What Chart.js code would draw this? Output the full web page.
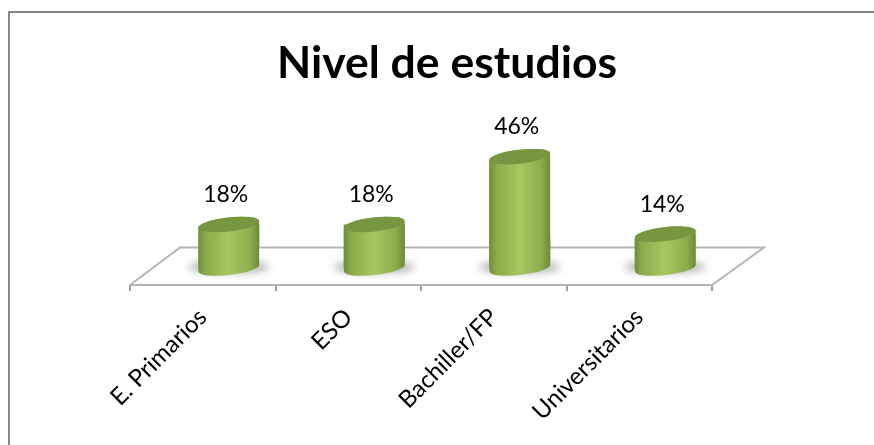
<!DOCTYPE html>
<html>
<head>
<meta charset="utf-8">
<style>
  html, body { margin: 0; padding: 0; background: #fff; }
  #wrap { position: relative; width: 874px; height: 445px; }
  canvas { filter: blur(0.35px); }
</style>
</head>
<body>
<div id="wrap"><canvas id="estudiosChart" width="874" height="445"></canvas></div>
<script src="https://cdn.jsdelivr.net/npm/chart.js@4/dist/chart.umd.min.js"></script>
<script>
const categorias = ['E. Primarios', 'ESO', 'Bachiller/FP', 'Universitarios'];
const porcentajes = [18, 18, 46, 14];
const etiquetas = ['18%', '18%', '46%', '14%'];

// la perspectiva del suelo: el fondo va corrido respecto al eje, las barras a media profundidad
const fondoX = 50, fondoY = 37.5;
const barraX = 26, barraY = 17;
const radioY = 7, giro = -0.115;

function gradienteBarra(ctx, cx, r) {
    const g = ctx.createLinearGradient(cx - r, 0, cx + r, 0);
    g.addColorStop(0, '#6f8f38');
    g.addColorStop(0.12, '#8bab4c');
    g.addColorStop(0.5, '#a6c85f');
    g.addColorStop(0.85, '#8cad4d');
    g.addColorStop(1, '#6c8b37');
    return g;
}

function datosBarras(chart) {
    return chart.getDatasetMeta(0).data.map(function(b) {
        return { cx: b.x, top: b.y, base: b.base, r: b.width / 2 };
    });
}

function silueta(ctx, b) {
    ctx.ellipse(b.cx, b.top, b.r, radioY, giro, Math.PI, Math.PI * 2);
    ctx.ellipse(b.cx, b.base, b.r, radioY, giro, 0, Math.PI);
    ctx.closePath();
}

const cilindros = {
    id: 'cilindros',
    beforeDatasetDraw(chart) {
        const ctx = chart.ctx;
        ctx.save();
        ctx.translate(barraX, -barraY);
        datosBarras(chart).forEach(function(b) {
            // sombra sobre el suelo
            ctx.save();
            ctx.filter = 'blur(4px)';
            ctx.fillStyle = 'rgba(120,120,120,0.75)';
            ctx.beginPath();
            ctx.ellipse(b.cx, b.base - 1, b.r + 10, 5, 0, 0, Math.PI * 2);
            ctx.fill();
            ctx.restore();
            // cuerpo entero, la barra solo cubre hasta la base
            ctx.fillStyle = gradienteBarra(ctx, b.cx, b.r);
            ctx.beginPath();
            silueta(ctx, b);
            ctx.fill();
        });
        // recorta la barra a la silueta del cilindro
        ctx.beginPath();
        datosBarras(chart).forEach(function(b) {
            silueta(ctx, b);
        });
        ctx.clip();
    },
    afterDatasetDraw(chart) {
        const ctx = chart.ctx;
        ctx.restore();
        ctx.save();
        ctx.translate(barraX, -barraY);
        datosBarras(chart).forEach(function(b) {
            ctx.fillStyle = '#78953f';
            ctx.beginPath();
            ctx.ellipse(b.cx, b.top, b.r, radioY, giro, 0, Math.PI * 2);
            ctx.fill();
        });
        ctx.restore();
        // etiquetas de datos
        ctx.save();
        ctx.fillStyle = '#000';
        ctx.font = '23px Lato';
        ctx.textAlign = 'center';
        ctx.textBaseline = 'middle';
        datosBarras(chart).forEach(function(b, i) {
            ctx.fillText(etiquetas[i], b.cx + barraX - 3, b.top - barraY - 30);
        });
        ctx.restore();
    }
};

const suelo = {
    id: 'suelo',
    beforeDatasetsDraw(chart) {
        const ctx = chart.ctx;
        const a = chart.chartArea;
        ctx.save();
        ctx.strokeStyle = '#b4b4b4';
        ctx.lineWidth = 2;
        ctx.beginPath();
        ctx.moveTo(a.left, a.bottom);
        ctx.lineTo(a.left + fondoX, a.bottom - fondoY);
        ctx.lineTo(a.right + fondoX + 2, a.bottom - fondoY);
        ctx.lineTo(a.right, a.bottom);
        ctx.stroke();
        ctx.restore();
    }
};

const marco = {
    id: 'marco',
    beforeDraw(chart) {
        const ctx = chart.ctx;
        ctx.save();
        ctx.strokeStyle = '#868686';
        ctx.lineWidth = 2;
        ctx.beginPath();
        ctx.moveTo(9, 445);
        ctx.lineTo(9, 12);
        ctx.lineTo(874, 12);
        ctx.stroke();
        ctx.restore();
    }
};

new Chart(document.getElementById('estudiosChart'), {
    type: 'bar',
    data: {
        labels: categorias,
        datasets: [{
            data: porcentajes,
            clip: false,
            backgroundColor: function(c) {
                if (!c.chart.chartArea) return '#a6c85f';
                const cx = c.chart.scales.x.getPixelForValue(c.dataIndex);
                return gradienteBarra(c.chart.ctx, cx, 30.5);
            },
            barPercentage: 0.42,
            categoryPercentage: 1
        }]
    },
    options: {
        responsive: false,
        animation: false,
        layout: { padding: { left: 20, right: 0, top: 0, bottom: 0 } },
        scales: {
            x: {
                afterFit: function(s) { s.height = 160; },
                grid: { drawOnChartArea: false, color: '#a0a0a0', lineWidth: 2, tickLength: 6 },
                border: { color: '#b4b4b4', width: 2 },
                ticks: {
                    color: '#000',
                    font: { family: 'Lato', size: 24 },
                    minRotation: 45,
                    maxRotation: 45,
                    autoSkip: false,
                    padding: 12
                }
            },
            // escalas sin dibujo: solo reservan los margenes del eje
            y: {
                min: 0,
                max: 50,
                afterFit: function(s) { s.width = 110; },
                grid: { display: false },
                border: { display: false },
                ticks: { display: false }
            },
            margenDerecho: {
                type: 'linear',
                position: 'right',
                afterFit: function(s) { s.width = 162; },
                grid: { display: false },
                border: { display: false },
                ticks: { display: false }
            }
        },
        plugins: {
            legend: { display: false },
            tooltip: { enabled: false },
            title: {
                display: true,
                text: 'Nivel de estudios',
                color: '#000',
                font: { family: 'Lato', size: 44.5, weight: 'bold' },
                padding: { top: 37, bottom: 73.6 }
            }
        }
    },
    plugins: [marco, suelo, cilindros]
});
</script>
</body>
</html>
